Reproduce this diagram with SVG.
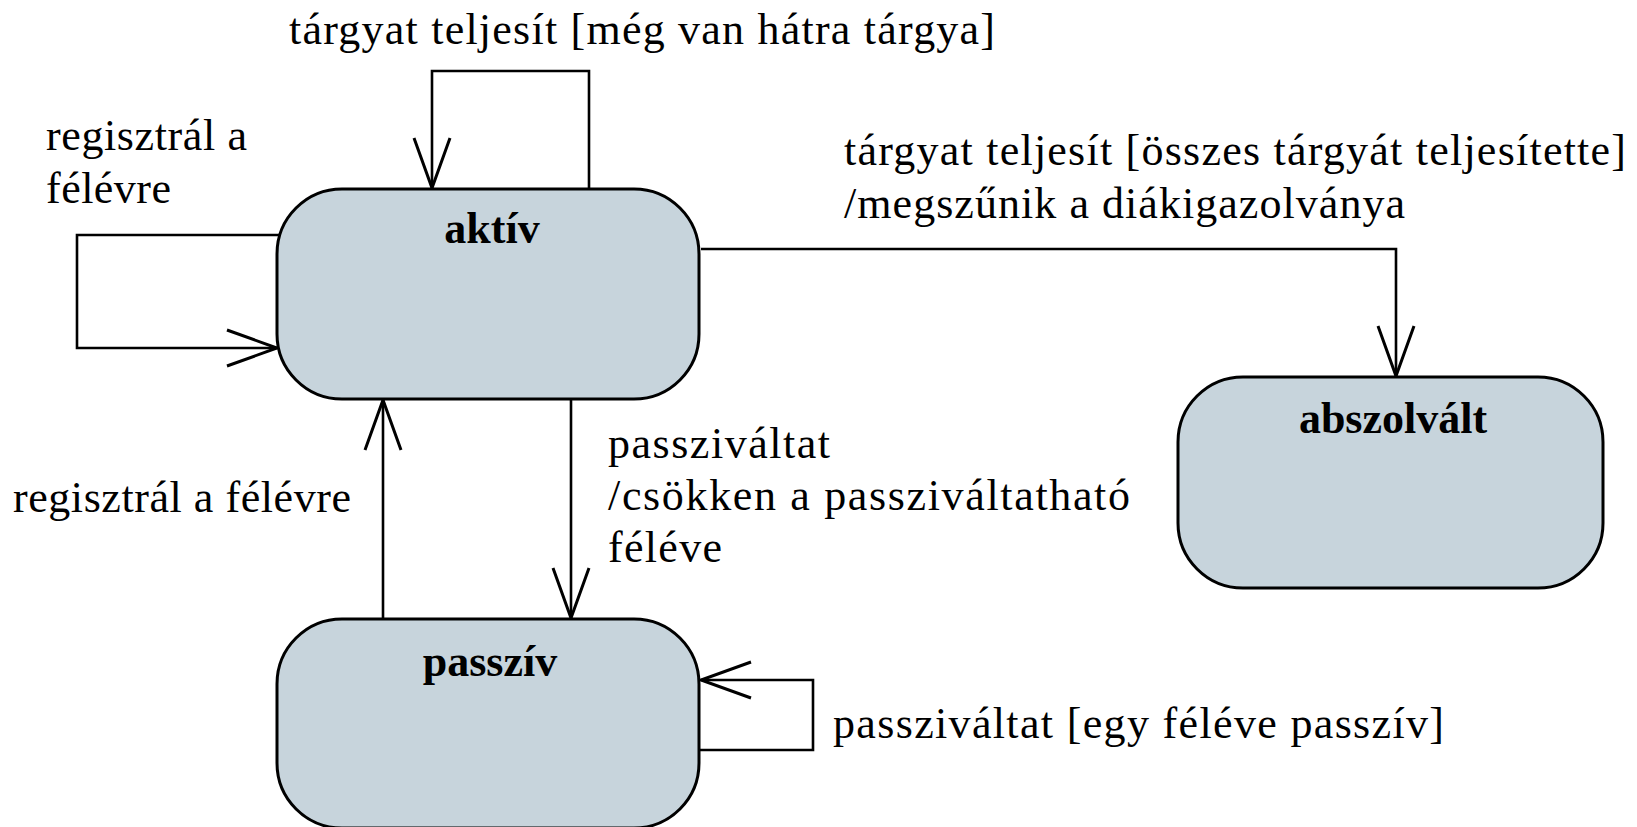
<svg xmlns="http://www.w3.org/2000/svg" width="1637" height="827" viewBox="0 0 1637 827">
  <style>
    .state { fill: #c7d4dc; stroke: #000; stroke-width: 3; }
    .name { font-family: "Liberation Serif", "Times New Roman", serif; font-size: 44px; font-weight: bold; text-anchor: middle; fill: #000; }
    .label { font-family: "Liberation Serif", "Times New Roman", serif; font-size: 44px; fill: #000; }
    .edge { fill: none; stroke: #000; stroke-width: 2.6; marker-end: url(#open); }
  </style>
  <defs>
    <marker id="open" markerUnits="userSpaceOnUse" markerWidth="60" markerHeight="44" viewBox="-54 -22 60 44" refX="0" refY="0" orient="auto" overflow="visible">
      <path d="M-50,-18 L0,0 L-50,18" fill="none" stroke="#000" stroke-width="3"/>
    </marker>
  </defs>
  <rect width="1637" height="827" fill="#fff"/>

  <!-- transitions -->
  <g id="connectors">
    <path class="edge" d="M589,189 V71 H432 V188"/>
    <path class="edge" d="M280,235 H77 V348 H277"/>
    <path class="edge" d="M701,249 H1396 V376"/>
    <path class="edge" d="M571,400 V618"/>
    <path class="edge" d="M383,619 V400"/>
    <path class="edge" d="M699,750 H813 V680 H701"/>
  </g>

  <!-- transition labels -->
  <g id="labels">
    <text class="label" x="289" y="44" textLength="706" lengthAdjust="spacing">tárgyat teljesít [még van hátra tárgya]</text>
    <text class="label" x="46" y="150" textLength="201" lengthAdjust="spacing">regisztrál a</text>
    <text class="label" x="46" y="203" textLength="125" lengthAdjust="spacing">félévre</text>
    <text class="label" x="844" y="165" textLength="782" lengthAdjust="spacing">tárgyat teljesít [összes tárgyát teljesítette]</text>
    <text class="label" x="844" y="218" textLength="561" lengthAdjust="spacing">/megszűnik a diákigazolványa</text>
    <text class="label" x="13" y="512" textLength="338" lengthAdjust="spacing">regisztrál a félévre</text>
    <text class="label" x="608" y="458" textLength="222" lengthAdjust="spacing">passziváltat</text>
    <text class="label" x="608" y="510" textLength="522" lengthAdjust="spacing">/csökken a passziváltatható</text>
    <text class="label" x="608" y="562" textLength="114" lengthAdjust="spacing">féléve</text>
    <text class="label" x="833" y="738" textLength="611" lengthAdjust="spacing">passziváltat [egy féléve passzív]</text>
  </g>

  <g id="aktiv">
    <rect class="state" x="277" y="189" width="422" height="210" rx="65" ry="65"/>
    <text class="name" x="492" y="243">aktív</text>
  </g>
  <g id="abszolvalt">
    <rect class="state" x="1178" y="377" width="425" height="211" rx="65" ry="65"/>
    <text class="name" x="1393" y="433">abszolvált</text>
  </g>
  <g id="passziv">
    <rect class="state" x="277" y="619" width="422" height="209" rx="65" ry="65"/>
    <text class="name" x="490" y="676">passzív</text>
  </g>
</svg>
